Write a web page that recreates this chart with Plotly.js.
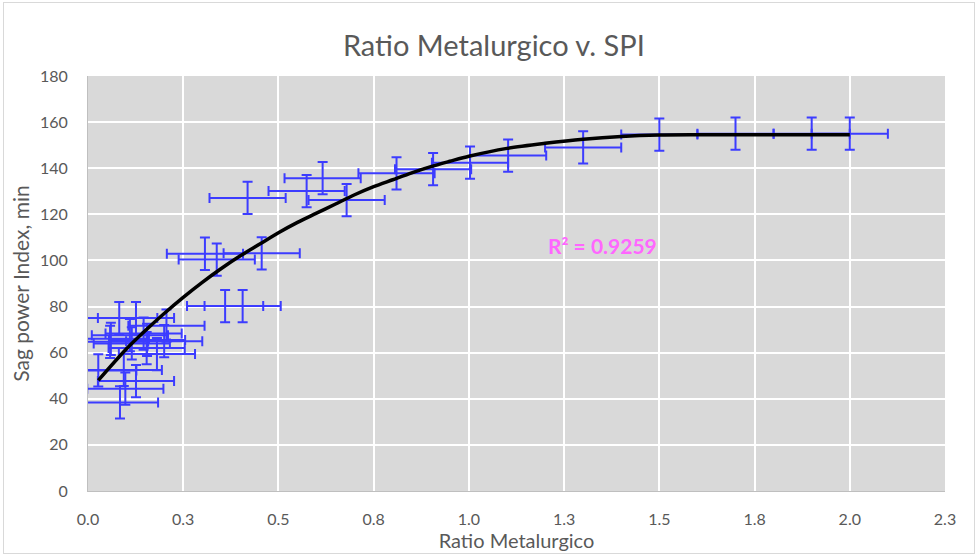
<!DOCTYPE html>
<html>
<head>
<meta charset="utf-8">
<script src="https://cdn.plot.ly/plotly-3.0.1.min.js"></script>
<style>
  html, body { margin: 0; padding: 0; background: #ffffff; }
  #wrap { position: relative; width: 980px; height: 556px; }
  #chart { position: absolute; left: 0; top: 0; width: 980px; height: 556px; }
  #frame { position: absolute; left: 3px; top: 2px; width: 970px; height: 550px; border: 1px solid #d9d9d9; pointer-events: none; }
</style>
</head>
<body>
<div id="wrap"><div id="chart"></div><div id="frame"></div></div>
<script>
// Measured points (Ratio Metalurgico vs Sag power Index)
const ratioX = [
  0.082, 0.126, 0.206, 0.146, 0.155, 0.115, 0.058, 0.110, 0.181, 0.154,
  0.027, 0.094, 0.126, 0.098, 0.084, 0.060, 0.200,
  0.307, 0.338, 0.456, 0.360, 0.406,
  0.419, 0.574, 0.616, 0.679, 0.810, 0.906, 1.003, 1.103,
  1.300, 1.500, 1.700, 1.900, 2.000
];
const spiY = [
  75.0, 75.0, 71.7, 68.3, 65.5, 64.0, 64.7, 67.6, 59.4, 62.0,
  52.3, 52.5, 47.7, 44.4, 38.4, 66.0, 65.0,
  102.9, 100.4, 103.1, 80.2, 80.2,
  127.1, 130.1, 135.7, 126.2, 137.8, 139.6, 142.4, 145.5,
  149.0, 154.6, 155.0, 155.0, 155.0
];
const errX = 0.1;   // horizontal error (fixed value)
const errY = 7;     // vertical error (fixed value)

// Fitted curve
const fitX = [0.027, 0.1, 0.15, 0.2, 0.25, 0.3, 0.35, 0.4, 0.45, 0.5, 0.55, 0.6, 0.65, 0.7, 0.75, 0.8, 0.85, 0.9, 0.95, 1.0, 1.1, 1.2, 1.3, 1.4, 1.5, 1.6, 1.7, 1.8, 1.9, 2.0];
const fitY = [48, 61.5, 69.5, 77, 84, 90.5, 96.5, 102, 107, 112, 116.5, 120.5, 124.5, 128.5, 132, 135, 138, 140.7, 143, 145.2, 148.6, 150.8, 152.6, 153.8, 154.4, 154.5, 154.5, 154.5, 154.5, 154.5];

// Axis ticks
const xTickVals = [0, 0.25, 0.5, 0.75, 1.0, 1.25, 1.5, 1.75, 2.0, 2.25];
const xTickText = ["0.0", "0.3", "0.5", "0.8", "1.0", "1.3", "1.5", "1.8", "2.0", "2.3"];
const yTickVals = [0, 20, 40, 60, 80, 100, 120, 140, 160, 180];

const chartTitle = "Ratio Metalurgico v. SPI";
const xTitle = "Ratio Metalurgico";
const yTitle = "Sag power Index, min";
const r2Text = "R² = 0.9259";

const FONT = "Lato, 'Noto Sans', sans-serif";
const GREY = "#595959";
const BLUE = "#3c3cff";

const traces = [
  {
    type: "scatter",
    mode: "markers",
    x: ratioX,
    y: spiY,
    marker: { size: 2, color: BLUE, opacity: 0 },
    error_x: { type: "constant", value: errX, color: BLUE, thickness: 2, width: 5 },
    error_y: { type: "constant", value: errY, color: BLUE, thickness: 2, width: 5 },
    hoverinfo: "x+y",
    showlegend: false
  },
  {
    type: "scatter",
    mode: "lines",
    x: fitX,
    y: fitY,
    line: { color: "#000000", width: 3.5, shape: "spline", smoothing: 0.8 },
    showlegend: false
  }
];

const layout = {
  width: 980,
  height: 556,
  margin: { l: 88, r: 35, t: 76, b: 65, pad: 0 },
  paper_bgcolor: "rgba(0,0,0,0)",
  plot_bgcolor: "#d9d9d9",
  font: { family: FONT, color: GREY, size: 16 },
  title: {
    text: chartTitle,
    font: { family: FONT, size: 29, color: GREY },
    x: 0.504, xref: "container", xanchor: "center",
    y: 1 - 46 / 556, yref: "container", yanchor: "middle"
  },
  xaxis: {
    range: [0, 2.25],
    tickmode: "array",
    tickvals: xTickVals,
    ticktext: xTickText,
    showgrid: true,
    gridcolor: "#ffffff",
    gridwidth: 2,
    zeroline: false,
    showline: true,
    linecolor: "#bfbfbf",
    linewidth: 1,
    ticks: "outside",
    ticklen: 14,
    tickcolor: "rgba(0,0,0,0)",
    tickfont: { family: FONT, size: 16, color: GREY },
    title: { text: xTitle, font: { family: FONT, size: 20, color: GREY }, standoff: 5 }
  },
  yaxis: {
    range: [0, 180],
    tickmode: "array",
    tickvals: yTickVals,
    showgrid: true,
    gridcolor: "#ffffff",
    gridwidth: 2,
    zeroline: false,
    showline: true,
    linecolor: "#bfbfbf",
    linewidth: 1,
    ticks: "outside",
    ticklen: 16,
    tickcolor: "rgba(0,0,0,0)",
    tickfont: { family: FONT, size: 16, color: GREY },
    title: { text: yTitle, font: { family: FONT, size: 21, color: GREY }, standoff: 4 }
  },
  annotations: [
    {
      text: r2Text,
      x: 1.352, y: 106.7, xref: "x", yref: "y",
      showarrow: false,
      font: { family: FONT, size: 21, color: "#ff66ff", weight: "bold" }
    }
  ]
};

Plotly.newPlot("chart", traces, layout, { displayModeBar: false, staticPlot: true });
</script>
</body>
</html>
